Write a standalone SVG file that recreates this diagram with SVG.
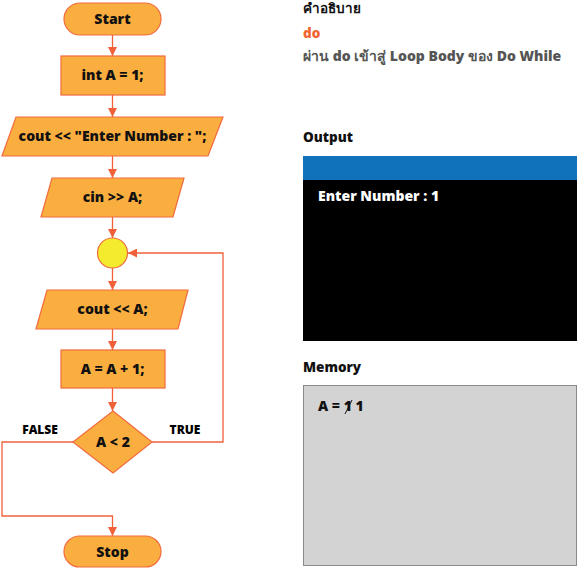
<svg xmlns="http://www.w3.org/2000/svg" width="577" height="569" viewBox="0 0 577 569">
<defs>
<style>
.n{fill:#FBAE40;stroke:#F26A3D;stroke-width:1.2}
.t{font-family:"Open Sans","Noto Sans","Liberation Sans",sans-serif;font-weight:800;font-size:14px;fill:#111;text-anchor:middle}
.l{fill:none;stroke:#F0613A;stroke-width:1.3}
.h{font-family:"Open Sans","Noto Sans","Liberation Sans",sans-serif;font-weight:800;font-size:14px}
</style>
<marker id="a" viewBox="0 0 10 10" refX="10" refY="5" markerWidth="9" markerHeight="9" orient="auto" markerUnits="userSpaceOnUse">
<path d="M0,0 L10,5 L0,10 z" fill="#F0613A"/>
</marker>
</defs>
<rect width="577" height="569" fill="#fff"/>
<g id="connectors">
<line class="l" x1="112.5" y1="35" x2="112.5" y2="56" marker-end="url(#a)"/>
<line class="l" x1="112.5" y1="95" x2="112.5" y2="117" marker-end="url(#a)"/>
<line class="l" x1="112.5" y1="156" x2="112.5" y2="178" marker-end="url(#a)"/>
<line class="l" x1="112.5" y1="217" x2="112.5" y2="238" marker-end="url(#a)"/>
<line class="l" x1="112.5" y1="268" x2="112.5" y2="290" marker-end="url(#a)"/>
<line class="l" x1="112.5" y1="329" x2="112.5" y2="350" marker-end="url(#a)"/>
<line class="l" x1="112.5" y1="388" x2="112.5" y2="411" marker-end="url(#a)"/>
<polyline class="l" points="152,442 223,442 223,253 128,253" marker-end="url(#a)"/>
<polyline class="l" points="73,442 2,442 2,516 112.5,516 112.5,536" marker-end="url(#a)"/>
</g>
<g id="start"><rect class="n" x="64" y="3" width="97" height="32" rx="16"/><text class="t" x="112.5" y="24">Start</text></g>
<g id="init"><rect class="n" x="61" y="56" width="104" height="39"/><text class="t" x="112.5" y="80">int A = 1;</text></g>
<g id="prompt"><polygon class="n" points="16,117 223,117 208,156 2,156"/><text class="t" x="112.5" y="141">cout &lt;&lt; "Enter Number : ";</text></g>
<g id="input"><polygon class="n" points="52,178 184,178 173,217 41,217"/><text class="t" x="112.5" y="202">cin &gt;&gt; A;</text></g>
<g id="junction"><circle cx="112.5" cy="253" r="15" fill="#F5EB2E" stroke="#F26A3D" stroke-width="1.2"/></g>
<g id="print"><polygon class="n" points="47,290 188,290 178,329 36,329"/><text class="t" x="112.5" y="314">cout &lt;&lt; A;</text></g>
<g id="incr"><rect class="n" x="61" y="350" width="104" height="38"/><text class="t" x="112.5" y="374">A = A + 1;</text></g>
<g id="cond"><polygon class="n" points="113,411 152,442 113,473 73,442"/><text class="t" x="113" y="447">A &lt; 2</text></g>
<g id="stop"><rect class="n" x="64" y="536" width="97" height="31" rx="15.5"/><text class="t" x="112.5" y="557">Stop</text></g>
<text class="h" x="40" y="434" text-anchor="middle" style="font-size:12px">FALSE</text>
<text class="h" x="185" y="434" text-anchor="middle" style="font-size:12px">TRUE</text>
<g id="desc">
<text class="h" x="303" y="13" fill="#111" style="font-size:13.5px">คำอธิบาย</text>
<text class="h" x="303" y="38" fill="#F26531" style="font-size:13.5px">do</text>
<text class="h" x="303" y="61" fill="#555" style="font-size:14px">ผ่าน do เข้าสู่ Loop Body ของ Do While</text>
</g>
<g id="output">
<text class="h" x="303" y="142" fill="#111" style="font-size:13.5px">Output</text>
<rect x="303" y="156" width="274" height="24" fill="#1072BA"/>
<rect x="303" y="180" width="274" height="161" fill="#000"/>
<text class="h" x="318" y="201" fill="#fff" style="font-size:14px">Enter Number : 1</text>
</g>
<g id="memory">
<text class="h" x="303" y="372" fill="#111" style="font-size:13.5px">Memory</text>
<rect x="303.5" y="385.5" width="273" height="180" fill="#D3D3D3" stroke="#8A8A8A" stroke-width="1"/>
<text class="h" x="318" y="411" fill="#111" style="font-size:14px">A = 1 1</text>
<line x1="345" y1="414" x2="352" y2="400" stroke="#111" stroke-width="1"/>
</g>
</svg>
